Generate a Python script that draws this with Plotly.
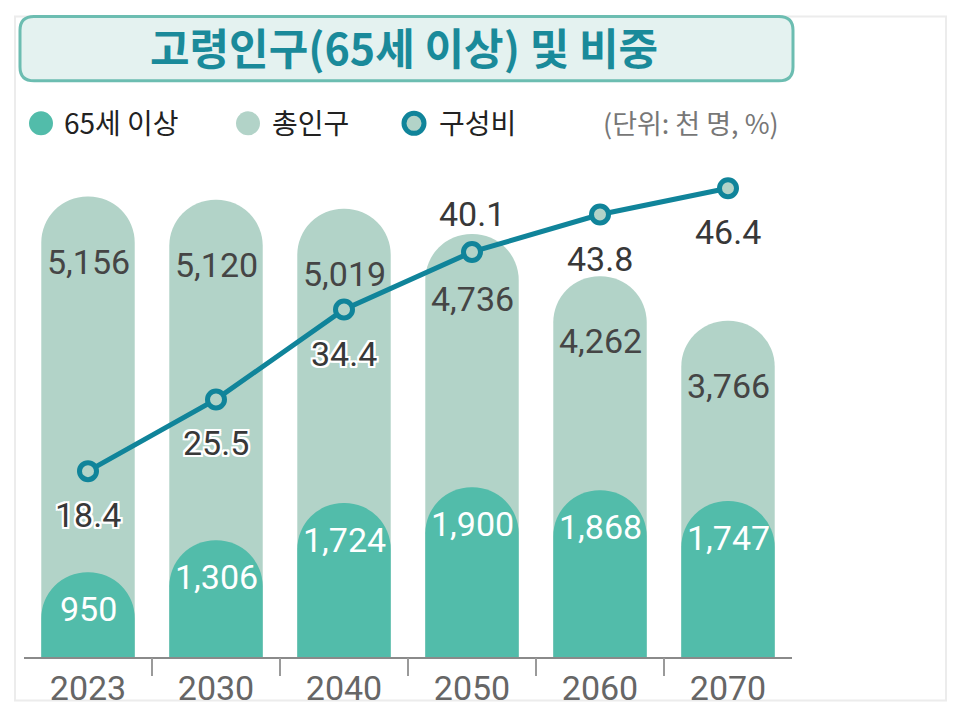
import plotly.graph_objects as go

# ---------------- data ----------------
years = ["2023", "2030", "2040", "2050", "2060", "2070"]
total_pop = [5156, 5120, 5019, 4736, 4262, 3766]      # 총인구 (천 명)
elderly_pop = [950, 1306, 1724, 1900, 1868, 1747]     # 65세 이상 (천 명)
share = [18.4, 25.5, 34.4, 40.1, 43.8, 46.4]          # 구성비 (%)
share_pos = ["below", "below", "below", "above", "below", "below"]

title_text = "고령인구(65세 이상) 및 비중"
legend_names = ["65세 이상", "총인구", "구성비"]
unit_text = "(단위: 천 명, %)"

# ---------------- style ----------------
C_ELDER = "#52bcaa"
C_TOTAL = "#b2d3c8"
C_LINE = "#10849a"
C_TITLE = "#1a8a9a"
NUM_FONT = "Roboto"
KR_FONT = "Noto Sans CJK KR"

W_PX, H_PX = 960, 720
L, R, T, B = 24, 792, 160, 662
PW, PH = R - L, B - T
BAR_W = 0.73
Y_MAX = 5565
Y2_MAX = 49.2


def px(x):
    return (x - L) / PW


def py(y):
    return (B - y) / PH


idx = list(range(len(years)))

fig = go.Figure()

fig.add_trace(go.Bar(
    x=idx, y=total_pop, name=legend_names[1], width=BAR_W,
    marker=dict(color=C_TOTAL, cornerradius="50%", line=dict(width=0)),
    showlegend=False, hoverinfo="skip"))
fig.add_trace(go.Bar(
    x=idx, y=elderly_pop, name=legend_names[0], width=BAR_W, xaxis="x2", yaxis="y",
    marker=dict(color=C_ELDER, cornerradius="50%", line=dict(width=0)),
    showlegend=False, hoverinfo="skip"))
fig.add_trace(go.Scatter(
    x=idx, y=share, name=legend_names[2], xaxis="x2", yaxis="y2", mode="lines+markers",
    line=dict(color=C_LINE, width=5),
    marker=dict(size=17, color=C_TOTAL, line=dict(color=C_LINE, width=5)),
    showlegend=False, hoverinfo="skip"))

annotations = []
for i, v in zip(idx, total_pop):
    annotations.append(dict(x=i, y=v, xref="x", yref="y", text=f"{v:,}",
                            showarrow=False, yshift=-65, yanchor="middle",
                            font=dict(family=NUM_FONT, size=34, color="#454545")))
for i, v in zip(idx, elderly_pop):
    annotations.append(dict(x=i, y=v, xref="x", yref="y", text=f"{v:,}",
                            showarrow=False, yshift=-37, yanchor="middle",
                            font=dict(family=NUM_FONT, size=34, color="#ffffff")))
halo = ("2px 0 0 #fff, -2px 0 0 #fff, 0 2px 0 #fff, 0 -2px 0 #fff, "
        "2px 2px 0 #fff, -2px -2px 0 #fff, 2px -2px 0 #fff, -2px 2px 0 #fff")
for i, v, pos in zip(idx, share, share_pos):
    annotations.append(dict(x=i, y=v, xref="x", yref="y2", text=f"{v}",
                            showarrow=False, yshift=(38 if pos == "above" else -44),
                            yanchor="middle",
                            font=dict(family=NUM_FONT, size=34, color="#383838",
                                      shadow=halo)))

# title
annotations.append(dict(x=px(404), y=py(45), xref="paper", yref="paper",
                        text=title_text, showarrow=False, xanchor="center", yanchor="middle",
                        font=dict(family=KR_FONT, size=43, color=C_TITLE, weight=700)))
# legend texts
leg_x = [62, 270, 437]
for name, lx in zip(legend_names, leg_x):
    annotations.append(dict(x=px(lx), y=py(122), xref="paper", yref="paper",
                            text=name, showarrow=False, xanchor="left", yanchor="middle",
                            font=dict(family=KR_FONT, size=28, color="#222222")))
annotations.append(dict(x=px(781), y=py(122), xref="paper", yref="paper",
                        text=unit_text, showarrow=False, xanchor="right", yanchor="middle",
                        font=dict(family=KR_FONT, size=27, color="#777777")))

shapes = []
# card outline (soft shadow look)
shapes.append(dict(type="rect", xref="paper", yref="paper",
                   x0=px(15), x1=px(946), y0=py(15), y1=py(706),
                   line=dict(color="#ececec", width=2), fillcolor="rgba(0,0,0,0)",
                   layer="below"))
# rounded title box
x0, x1, y0, y1, r = 20, 793, 15, 80, 14
pts = [
    ("M", [(x0 + r, y0)]), ("L", [(x1 - r, y0)]), ("Q", [(x1, y0), (x1, y0 + r)]),
    ("L", [(x1, y1 - r)]), ("Q", [(x1, y1), (x1 - r, y1)]), ("L", [(x0 + r, y1)]),
    ("Q", [(x0, y1), (x0, y1 - r)]), ("L", [(x0, y0 + r)]), ("Q", [(x0, y0), (x0 + r, y0)]),
]
path = " ".join(cmd + " " + " ".join(f"{px(a):.5f},{py(b):.5f}" for a, b in p) for cmd, p in pts) + " Z"
shapes.append(dict(type="path", xref="paper", yref="paper", path=path,
                   fillcolor="#e4f2f0", line=dict(color="#6cbdb1", width=3), layer="below"))
# legend symbols
for cx, fill, lc, lw, rad in [(41, C_ELDER, C_ELDER, 0, 12), (248, C_TOTAL, C_TOTAL, 0, 12),
                              (414, C_TOTAL, C_LINE, 5, 10)]:
    shapes.append(dict(type="circle", xref="paper", yref="paper",
                       xsizemode="pixel", ysizemode="pixel",
                       xanchor=px(cx), yanchor=py(123),
                       x0=-rad, x1=rad, y0=-rad, y1=rad,
                       fillcolor=fill, line=dict(color=lc, width=lw)))

fig.update_layout(
    width=W_PX, height=H_PX,
    margin=dict(l=L, r=W_PX - R, t=T, b=H_PX - B, pad=0),
    paper_bgcolor="#ffffff", plot_bgcolor="#ffffff",
    barmode="overlay", showlegend=False,
    xaxis=dict(tickmode="array", tickvals=idx, ticktext=years,
               range=[-0.5, 5.5], showline=True, linecolor="#8a8a8a", linewidth=2,
               ticks="", showgrid=False, zeroline=False, ticklabelstandoff=0,
               tickfont=dict(family=NUM_FONT, size=34, color="#666666")),
    xaxis2=dict(overlaying="x", anchor="y", side="bottom", range=[-0.5, 5.5],
                tickvals=[0.5, 1.5, 2.5, 3.5, 4.5], ticks="outside", ticklen=18,
                tickwidth=2, tickcolor="#9a9a9a", showticklabels=False,
                showgrid=False, zeroline=False, showline=False),
    yaxis=dict(range=[0, Y_MAX], visible=False, showgrid=False, zeroline=False),
    yaxis2=dict(range=[0, Y2_MAX], overlaying="y", visible=False, showgrid=False, zeroline=False),
    annotations=annotations, shapes=shapes,
)

fig.write_html("out.html", config={"displayModeBar": False},
               post_script="document.body.style.margin='0px';")
